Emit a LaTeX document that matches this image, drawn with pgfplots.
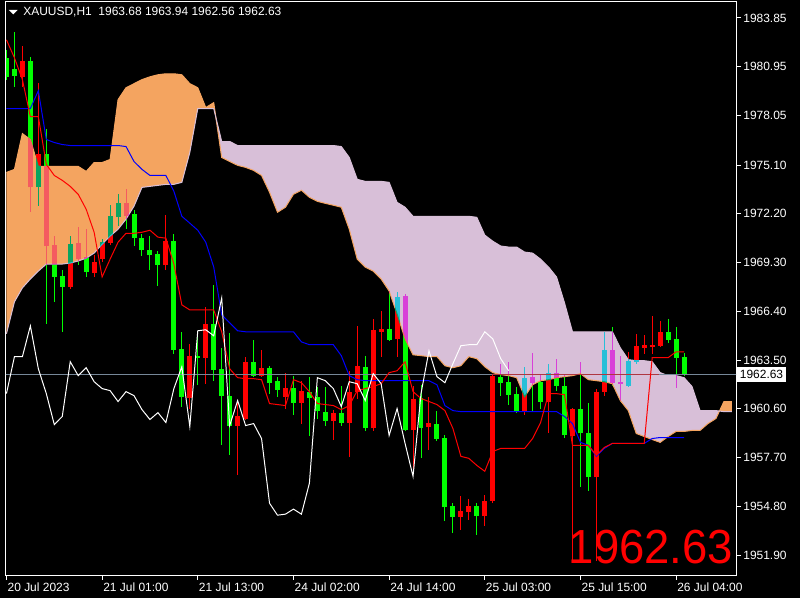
\documentclass[border=0pt]{standalone}
\usepackage{fontspec}
\setmainfont{Liberation Sans}
\setsansfont{Liberation Sans}
\usepackage{pgfplots}
\pgfplotsset{compat=1.18}
\usepgfplotslibrary{fillbetween}
\usepackage{pgfplotstable}

\definecolor{bullc}{RGB}{255,0,0}
\definecolor{bearc}{RGB}{0,255,0}
\definecolor{spanA}{RGB}{244,164,96}
\definecolor{spanB}{RGB}{216,191,216}
\definecolor{pline}{RGB}{119,136,153}
\definecolor{plinex}{RGB}{175,55,65}

% bearish candles (close < open)
\pgfplotstableread{
x o h l c
0 1981.48 1981.95 1980.18 1980.35
1 1980.83 1983.02 1979.76 1980.41
3 1981.30 1981.54 1972.29 1973.77
5 1975.73 1977.27 1965.65 1970.28
6 1970.33 1970.87 1966.96 1968.44
7 1968.50 1968.85 1965.18 1967.85
9 1970.45 1971.40 1969.15 1969.50
10 1969.62 1971.28 1968.44 1968.73
15 1972.82 1973.65 1971.28 1972.05
16 1972.17 1972.41 1970.28 1970.75
17 1970.75 1970.99 1969.68 1970.04
18 1970.04 1970.87 1968.85 1969.74
19 1969.80 1969.98 1967.90 1969.15
21 1970.57 1970.99 1963.87 1964.11
22 1964.17 1965.18 1960.73 1961.32
24 1963.76 1965.24 1962.03 1963.64
26 1965.65 1967.96 1962.27 1962.92
27 1962.98 1964.23 1958.42 1961.38
28 1961.38 1965.12 1957.83 1959.60
31 1963.40 1964.70 1962.51 1962.57
33 1963.04 1963.16 1961.50 1962.15
34 1962.27 1962.51 1961.32 1961.74
36 1961.86 1962.57 1960.20 1960.97
38 1961.62 1962.51 1958.95 1961.26
39 1961.32 1961.92 1960.02 1960.49
40 1960.43 1961.92 1959.60 1959.90
42 1960.37 1961.98 1959.60 1959.78
45 1963.10 1963.76 1959.25 1959.43
48 1965.36 1967.61 1964.64 1964.70
50 1967.31 1967.43 1959.25 1959.31
52 1961.26 1962.03 1957.65 1959.43
54 1959.72 1960.49 1958.66 1958.83
55 1958.89 1959.01 1953.91 1954.74
56 1954.80 1954.98 1953.20 1954.15
59 1954.80 1954.98 1953.08 1954.21
62 1962.51 1963.28 1961.38 1962.15
63 1962.21 1963.40 1960.85 1961.44
64 1961.50 1961.92 1960.32 1960.43
66 1962.51 1963.93 1960.43 1962.15
67 1962.21 1962.69 1960.61 1961.03
69 1962.75 1963.58 1961.68 1961.98
70 1961.98 1962.63 1958.89 1959.01
72 1960.61 1963.40 1955.93 1959.13
73 1959.13 1960.97 1955.69 1956.52
76 1964.11 1965.47 1961.98 1962.15
77 1962.21 1963.76 1961.03 1962.09
83 1965.18 1965.95 1964.52 1964.70
84 1964.76 1965.47 1961.86 1963.64
85 1963.68 1963.94 1962.56 1962.63
}\beartab

% bullish candles (close > open)
\pgfplotstableread{
x o h l c
2 1980.35 1982.19 1979.76 1981.30
4 1973.77 1980.00 1972.65 1975.73
8 1967.85 1970.87 1967.73 1970.39
11 1968.67 1969.74 1968.44 1969.33
12 1969.50 1970.69 1969.33 1970.51
13 1970.45 1972.71 1970.33 1972.05
14 1971.99 1973.36 1971.46 1972.82
20 1969.15 1972.12 1968.85 1970.57
23 1961.26 1964.47 1960.61 1963.76
25 1963.64 1966.66 1962.09 1965.65
29 1959.60 1961.09 1956.64 1960.14
30 1960.02 1963.70 1959.96 1963.40
32 1962.57 1964.11 1962.51 1963.04
35 1961.32 1962.75 1960.61 1961.86
37 1960.97 1962.27 1959.72 1961.68
41 1959.90 1960.55 1958.77 1960.37
43 1959.78 1962.86 1957.71 1961.62
44 1961.62 1965.53 1961.21 1963.16
46 1959.43 1965.95 1959.25 1965.30
47 1965.18 1966.42 1963.70 1965.36
49 1964.76 1967.55 1963.70 1967.25
51 1959.31 1961.98 1956.88 1961.21
53 1959.49 1961.32 1958.12 1959.78
57 1954.15 1955.40 1953.38 1954.51
58 1954.45 1955.22 1953.97 1954.80
60 1954.21 1955.46 1953.62 1955.10
61 1955.10 1962.69 1954.98 1962.57
65 1960.43 1963.10 1960.20 1962.45
68 1961.03 1963.28 1959.13 1962.75
71 1958.95 1960.67 1951.54 1960.61
74 1956.52 1961.80 1951.54 1961.62
75 1961.62 1965.18 1961.38 1964.11
78 1961.98 1963.99 1961.92 1963.46
79 1963.40 1965.06 1963.28 1964.35
80 1964.23 1965.00 1963.87 1964.41
81 1964.29 1966.13 1963.87 1964.41
82 1964.35 1965.83 1964.29 1965.18
}\bulltab

% Ichimoku cloud: senkou span A and B
\pgfplotstableread{
x a b
0 1974.66 1965.06
1 1974.84 1966.96
2 1976.97 1967.79
3 1976.62 1968.32
4 1975.02 1968.79
5 1975.02 1969.21
6 1975.02 1969.21
7 1975.02 1969.21
8 1975.02 1969.27
9 1975.02 1969.39
10 1974.72 1969.56
11 1975.25 1969.86
12 1975.25 1970.39
13 1975.43 1970.87
14 1978.99 1971.28
15 1979.70 1971.88
16 1979.94 1972.65
17 1980.18 1973.77
18 1980.35 1973.83
19 1980.47 1973.89
20 1980.53 1973.95
21 1980.53 1973.95
22 1980.47 1974.07
23 1979.94 1975.85
24 1979.70 1978.46
25 1978.52 1978.46
26 1978.81 1978.46
27 1975.55 1976.50
28 1975.31 1976.50
29 1975.08 1976.26
30 1974.96 1976.26
31 1974.78 1976.26
32 1974.48 1976.26
33 1973.48 1976.26
34 1972.29 1976.26
35 1972.59 1976.26
36 1973.36 1976.26
37 1973.60 1976.26
38 1973.18 1976.26
39 1972.94 1976.26
40 1972.82 1976.26
41 1972.71 1976.26
42 1972.59 1976.20
43 1971.28 1975.55
44 1969.50 1974.25
45 1969.03 1974.13
46 1968.79 1974.13
47 1968.32 1974.13
48 1967.61 1974.07
49 1966.24 1972.88
50 1964.76 1972.59
51 1963.81 1972.05
52 1963.76 1972.05
53 1963.70 1972.05
54 1963.70 1972.05
55 1963.16 1972.05
56 1963.04 1972.05
57 1963.16 1972.05
58 1963.70 1972.05
59 1963.58 1971.99
60 1963.10 1970.93
61 1962.75 1970.57
62 1962.63 1970.28
63 1962.57 1970.22
64 1962.45 1970.22
65 1961.32 1969.92
66 1962.03 1969.86
67 1962.27 1969.50
68 1962.33 1969.03
69 1962.45 1968.44
70 1962.51 1966.90
71 1962.57 1965.18
72 1962.69 1965.18
73 1962.33 1965.18
74 1962.27 1965.18
75 1962.21 1965.18
76 1962.09 1965.18
77 1961.09 1964.23
78 1960.49 1963.52
79 1959.13 1963.46
80 1958.95 1963.46
81 1958.77 1963.40
82 1958.60 1962.75
83 1958.95 1962.57
84 1959.25 1962.57
85 1959.25 1962.45
86 1959.31 1961.92
87 1959.31 1960.49
88 1959.72 1960.49
89 1960.02 1960.49
90 1961.03 1960.43
91 1961.03 1960.43
}\cloudtab

% tenkan-sen and kijun-sen
\pgfplotstableread{
x tenkan kijun
0 1982.55 1978.46
1 1981.48 1978.46
2 1980.18 1978.46
3 1977.98 1978.46
4 1977.98 1979.52
5 1975.14 1976.62
6 1974.48 1976.44
7 1974.19 1976.32
8 1973.83 1976.26
9 1973.36 1976.26
10 1972.47 1976.26
11 1971.10 1976.26
12 1968.44 1976.26
13 1969.50 1976.26
14 1970.51 1976.26
15 1971.04 1976.20
16 1971.04 1975.31
17 1971.10 1974.84
18 1971.22 1974.48
19 1970.81 1974.48
20 1970.75 1974.48
21 1969.21 1973.54
22 1966.78 1972.05
23 1966.48 1971.64
24 1966.48 1971.22
25 1966.48 1970.51
26 1966.48 1969.03
27 1965.18 1966.19
28 1962.98 1965.71
29 1962.45 1965.24
30 1962.39 1965.18
31 1962.39 1965.18
32 1962.33 1965.18
33 1960.91 1965.18
34 1960.85 1965.18
35 1960.79 1965.18
36 1962.33 1965.18
37 1962.15 1964.58
38 1961.62 1964.41
39 1960.91 1964.41
40 1960.85 1964.41
41 1960.79 1964.41
42 1960.55 1963.76
43 1960.79 1962.57
44 1961.68 1962.33
45 1961.80 1962.27
46 1961.92 1962.27
47 1962.09 1962.27
48 1962.75 1962.27
49 1962.86 1962.27
50 1963.40 1962.27
51 1961.62 1962.27
52 1961.21 1962.27
53 1961.03 1962.27
54 1960.85 1962.03
55 1960.49 1960.79
56 1959.43 1960.49
57 1957.77 1960.43
58 1957.65 1960.43
59 1957.23 1960.43
60 1956.88 1960.43
61 1958.06 1960.43
62 1958.24 1960.43
63 1958.24 1960.43
64 1958.24 1960.43
65 1958.24 1960.43
66 1958.83 1960.43
67 1959.78 1960.43
68 1961.50 1960.43
69 1961.50 1960.43
70 1961.44 1960.14
71 1958.42 1959.72
72 1958.42 1958.60
73 1958.42 1958.42
74 1957.83 1957.77
75 1958.30 1958.24
76 1958.54 1958.54
77 1958.54 1958.54
78 1958.54 1958.54
79 1958.54 1958.54
80 1958.54 1958.54
81 1963.64 1958.83
82 1963.64 1958.89
83 1963.64 1958.89
84 1963.99 1958.89
85 1963.99 1958.89
}\linetab

% chikou span
\pgfplotstableread{
x v
0 1961.50
1 1963.70
2 1963.70
3 1965.53
4 1962.98
5 1961.50
6 1959.66
7 1960.14
8 1963.40
9 1962.57
10 1963.04
11 1962.21
12 1961.80
13 1961.68
14 1961.03
15 1961.62
16 1961.38
17 1960.55
18 1959.96
19 1960.37
20 1959.78
21 1961.80
22 1963.10
23 1959.54
24 1965.24
25 1965.30
26 1964.94
27 1967.19
28 1959.60
29 1961.09
30 1959.60
31 1959.72
32 1958.83
33 1954.98
34 1954.27
35 1954.33
36 1954.63
37 1954.33
38 1956.17
39 1962.45
40 1962.27
41 1961.80
42 1960.73
43 1962.21
44 1962.09
45 1961.09
46 1962.69
47 1962.09
48 1959.01
49 1960.61
50 1958.54
51 1956.58
52 1961.50
53 1964.05
54 1962.51
55 1962.15
56 1963.28
57 1964.35
58 1964.41
59 1964.41
60 1965.18
61 1964.76
62 1963.58
63 1962.86
}\chikoutab

\pgfplotsset{
  candle/.style n args={3}{draw=none, no markers, forget plot,
    error bars/.cd, y dir=#1, y explicit, error mark=none,
    error bar style={draw=#2, line width=#3, line cap=butt, blend mode=difference}},
}

\begin{document}
\pagecolor{black}
\begin{tikzpicture}
\path (0,0) rectangle (800pt,600pt);
\begin{axis}[
  at={(3pt,23pt)}, anchor=south west,
  scale only axis, width=733pt, height=575pt,
  xmin=-0.0875, xmax=91.54, ymin=1950.71, ymax=1984.80,
  axis line style={white, line width=1pt},
  tick style={white, line width=1pt},
  tick align=outside, major tick length=5pt,
  xtick pos=left, ytick pos=right, yticklabel pos=right,
  xtick={0,12,24,36,48,60,72,84},
  xticklabels={20 Jul 2023, 21 Jul 01:00, 21 Jul 13:00, 24 Jul 02:00, 24 Jul 14:00, 25 Jul 03:00, 25 Jul 15:00, 26 Jul 04:00},
  xticklabel style={anchor=north west, inner sep=1pt, yshift=-2pt, text=white, font=\fontsize{12}{14}\selectfont},
  ytick={1951.90,1954.80,1957.70,1960.60,1963.50,1966.40,1969.30,1972.20,1975.10,1978.05,1980.95,1983.85},
  yticklabels={1951.90,1954.80,1957.70,1960.60,1963.50,1966.40,1969.30,1972.20,1975.10,1978.05,1980.95,1983.85},
  yticklabel style={anchor=west, inner sep=1pt, xshift=1pt, text=white, font=\fontsize{12}{14}\selectfont},
  minor tick num=0,
]
% cloud
\addplot[draw=none, name path=A, forget plot] table[x=x, y=a] {\cloudtab};
\addplot[draw=none, name path=B, forget plot] table[x=x, y=b] {\cloudtab};
\addplot[fill=spanA, draw=none, forget plot] fill between[of=A and B, soft clip={domain=-1:26.27}];
\addplot[fill=spanB, draw=none, forget plot] fill between[of=A and B, soft clip={domain=26.27:89.44}];
\addplot[fill=spanA, draw=none, forget plot] fill between[of=A and B, soft clip={domain=89.44:92}];
\addplot[spanA, line width=1pt, forget plot] table[x=x, y=a] {\cloudtab};
\addplot[spanB, line width=1pt, forget plot] table[x=x, y=b] {\cloudtab};

% bear candles: body, upper wick, lower wick
\addplot[candle={plus}{bearc}{5pt}]
  table[x=x, y=c, y error plus expr=\thisrow{o}-\thisrow{c}] {\beartab};
\addplot[candle={plus}{bearc}{1pt}]
  table[x=x, y=o, y error plus expr=\thisrow{h}-\thisrow{o}] {\beartab};
\addplot[candle={minus}{bearc}{1pt}]
  table[x=x, y=c, y error minus expr=\thisrow{c}-\thisrow{l}] {\beartab};
% bull candles: body, upper wick, lower wick
\addplot[candle={plus}{bullc}{5pt}]
  table[x=x, y=o, y error plus expr=\thisrow{c}-\thisrow{o}] {\bulltab};
\addplot[candle={plus}{bullc}{1pt}]
  table[x=x, y=c, y error plus expr=\thisrow{h}-\thisrow{c}] {\bulltab};
\addplot[candle={minus}{bullc}{1pt}]
  table[x=x, y=o, y error minus expr=\thisrow{o}-\thisrow{l}] {\bulltab};

% current price line
\addplot[pline, line width=1pt, forget plot] coordinates {(-1,1962.63) (93,1962.63)};
\addplot[plinex, line width=1pt, forget plot] coordinates {(60.9,1962.63) (81.8,1962.63)};

% lines
\addplot[blue, line width=1pt, forget plot] table[x=x, y=kijun] {\linetab};
\addplot[red, line width=1pt, forget plot] table[x=x, y=tenkan] {\linetab};
\addplot[white, line width=1pt, forget plot] table[x=x, y=v] {\chikoutab};
\end{axis}

% header
\fill[white] (6pt,590pt) -- (15pt,590pt) -- (10.5pt,585.5pt) -- cycle;
\node[anchor=west, text=white, inner sep=0pt, font=\fontsize{12}{14}\selectfont] at (20.5pt,587.5pt)
  {XAUUSD,H1\ \ 1963.68 1963.94 1962.56 1962.63};
% current price label
\node[anchor=west, fill=white, text=black, inner xsep=3pt, inner ysep=0pt, minimum height=15pt,
  font=\fontsize{12}{14}\selectfont] at (736.5pt,224pt) {1962.63};
% big price text
\node[anchor=base east, text=red, inner sep=0pt, xscale=0.95, transform shape,
  font=\fontsize{48}{50}\selectfont] at (733pt,35pt) {1962.63};

\pgfresetboundingbox
\path[use as bounding box] (0,0) rectangle (800pt,600pt);
\end{tikzpicture}
\end{document}
